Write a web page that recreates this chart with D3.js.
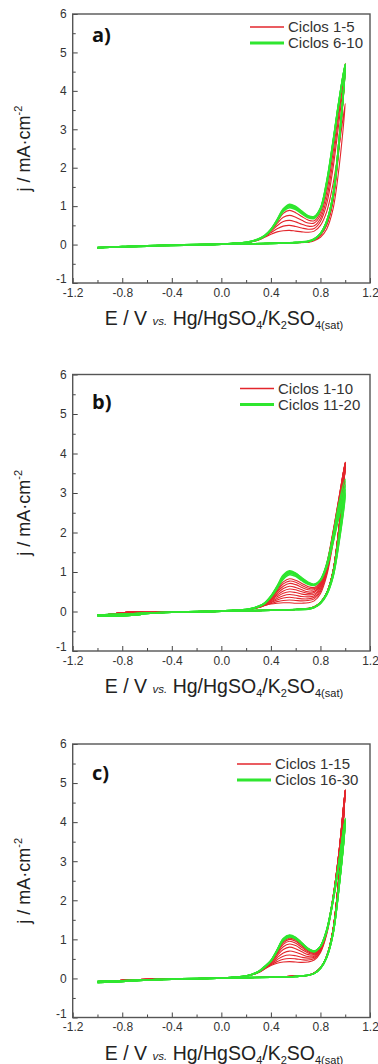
<!DOCTYPE html>
<html>
<head>
<meta charset="utf-8">
<script src="https://cdn.jsdelivr.net/npm/d3@7"></script>
<style>
  body { margin: 0; background: #fff; }
  svg { display: block; }
</style>
</head>
<body>
<svg id="chart" width="378" height="1064"></svg>
<script>
// potential grids (V vs Hg/HgSO4/K2SO4 sat)
const potentialLowFwd = [-1.0, -0.9, -0.8, -0.6, -0.4, -0.2, 0.0, 0.1];
const potentialHighFwd = [0.2, 0.3, 0.35, 0.4, 0.45, 0.5, 0.55, 0.6, 0.65, 0.7, 0.75, 0.8, 0.85, 0.9, 0.95, 1.0];
const potentialHighRev = [0.95, 0.9, 0.85, 0.8, 0.75, 0.7, 0.6, 0.5, 0.4];
const potentialLowRev = [0.2, 0.0, -0.2, -0.4, -0.6, -0.7, -0.8, -0.9, -1.0];

const xTicks = [-1.2, -0.8, -0.4, 0.0, 0.4, 0.8, 1.2];
const xMinorTicks = [-1.0, -0.6, -0.2, 0.2, 0.6, 1.0];
const yTicks = [-1, 0, 1, 2, 3, 4, 5, 6];
const yMinorTicks = [-0.5, 0.5, 1.5, 2.5, 3.5, 4.5, 5.5];

// ---- panel a) ----
const lowFwdA = [-0.08, -0.07, -0.06, -0.04, -0.02, -0.01, 0.01, 0.03];
const lowRevRedA = [0.02, 0.01, 0.0, -0.01, -0.03, -0.04, -0.05, -0.07, -0.09];
const lowRevGreenA = [0.02, 0.01, 0.0, -0.01, -0.03, -0.04, -0.05, -0.07, -0.09];
const redFwdA = [
  [0.05, 0.12, 0.19, 0.27, 0.33, 0.36, 0.37, 0.35, 0.33, 0.32, 0.35, 0.50, 0.85, 1.55, 2.55, 3.67],
  [0.05, 0.12, 0.20, 0.31, 0.41, 0.48, 0.50, 0.47, 0.43, 0.40, 0.42, 0.60, 1.05, 1.95, 3.20, 4.55],
  [0.05, 0.13, 0.21, 0.34, 0.49, 0.60, 0.63, 0.59, 0.53, 0.48, 0.49, 0.68, 1.20, 2.15, 3.40, 4.65],
  [0.05, 0.13, 0.21, 0.36, 0.55, 0.71, 0.76, 0.71, 0.63, 0.56, 0.56, 0.76, 1.35, 2.35, 3.55, 4.70],
  [0.05, 0.13, 0.22, 0.37, 0.59, 0.81, 0.89, 0.83, 0.73, 0.64, 0.62, 0.84, 1.48, 2.50, 3.65, 4.72]
];
const redRevA = [
  [2.00, 0.90, 0.40, 0.19, 0.10, 0.06, 0.05, 0.04, 0.03],
  [2.50, 1.10, 0.50, 0.24, 0.12, 0.07, 0.05, 0.04, 0.03],
  [2.55, 1.13, 0.52, 0.25, 0.12, 0.07, 0.05, 0.04, 0.03],
  [2.60, 1.15, 0.53, 0.25, 0.12, 0.07, 0.05, 0.04, 0.03],
  [2.62, 1.16, 0.54, 0.25, 0.12, 0.07, 0.05, 0.04, 0.03]
];
const greenFwdA = [
  [0.05, 0.13, 0.22, 0.38, 0.61, 0.86, 0.96, 0.91, 0.80, 0.70, 0.68, 0.90, 1.55, 2.58, 3.70, 4.68],
  [0.05, 0.14, 0.22, 0.38, 0.62, 0.88, 0.99, 0.94, 0.82, 0.72, 0.70, 0.92, 1.58, 2.60, 3.72, 4.68],
  [0.06, 0.14, 0.23, 0.39, 0.63, 0.90, 1.01, 0.96, 0.84, 0.73, 0.71, 0.93, 1.60, 2.62, 3.73, 4.69],
  [0.06, 0.14, 0.23, 0.39, 0.64, 0.91, 1.03, 0.97, 0.85, 0.74, 0.72, 0.94, 1.62, 2.63, 3.74, 4.70],
  [0.06, 0.15, 0.24, 0.40, 0.65, 0.93, 1.05, 0.99, 0.87, 0.75, 0.73, 0.95, 1.64, 2.65, 3.75, 4.70]
];
const greenRevA = [
  [2.68, 1.24, 0.59, 0.28, 0.14, 0.08, 0.05, 0.04, 0.03],
  [2.68, 1.24, 0.59, 0.28, 0.14, 0.08, 0.05, 0.04, 0.03],
  [2.69, 1.25, 0.60, 0.28, 0.14, 0.08, 0.05, 0.04, 0.03],
  [2.70, 1.25, 0.60, 0.28, 0.14, 0.08, 0.05, 0.04, 0.03],
  [2.70, 1.26, 0.60, 0.29, 0.15, 0.09, 0.06, 0.04, 0.03]
];

// ---- panel b) ----
const lowFwdB = [-0.09, -0.08, -0.07, -0.04, -0.02, -0.01, 0.01, 0.03];
const lowRevRedB = [0.02, 0.01, 0.0, -0.01, -0.02, -0.01, -0.03, -0.07, -0.10];
const lowRevGreenB = [0.02, 0.01, 0.0, -0.02, -0.05, -0.09, -0.11, -0.11, -0.11];
const redFwdB = [
  [0.04, 0.10, 0.15, 0.19, 0.21, 0.22, 0.22, 0.21, 0.21, 0.22, 0.27, 0.45, 0.90, 1.70, 2.60, 3.70],
  [0.04, 0.10, 0.15, 0.20, 0.25, 0.28, 0.29, 0.28, 0.27, 0.28, 0.32, 0.50, 0.95, 1.76, 2.65, 3.72],
  [0.04, 0.10, 0.16, 0.22, 0.29, 0.34, 0.36, 0.34, 0.32, 0.32, 0.36, 0.54, 1.00, 1.80, 2.70, 3.74],
  [0.04, 0.11, 0.16, 0.24, 0.33, 0.40, 0.43, 0.41, 0.38, 0.37, 0.40, 0.58, 1.04, 1.84, 2.74, 3.75],
  [0.04, 0.11, 0.17, 0.26, 0.37, 0.46, 0.50, 0.48, 0.44, 0.42, 0.44, 0.62, 1.08, 1.88, 2.78, 3.76],
  [0.04, 0.11, 0.17, 0.28, 0.41, 0.52, 0.57, 0.55, 0.50, 0.46, 0.48, 0.65, 1.11, 1.91, 2.81, 3.77],
  [0.04, 0.11, 0.18, 0.30, 0.45, 0.58, 0.64, 0.61, 0.55, 0.50, 0.51, 0.68, 1.14, 1.94, 2.84, 3.78],
  [0.04, 0.12, 0.18, 0.31, 0.49, 0.64, 0.71, 0.68, 0.61, 0.55, 0.55, 0.71, 1.17, 1.96, 2.86, 3.78],
  [0.04, 0.12, 0.19, 0.33, 0.52, 0.70, 0.77, 0.74, 0.66, 0.59, 0.58, 0.74, 1.19, 1.98, 2.88, 3.78],
  [0.04, 0.12, 0.19, 0.34, 0.55, 0.75, 0.83, 0.79, 0.71, 0.63, 0.61, 0.76, 1.21, 2.00, 2.89, 3.76]
];
const redRevB = [
  [2.10, 0.98, 0.46, 0.22, 0.11, 0.07, 0.05, 0.04, 0.03],
  [2.11, 0.98, 0.46, 0.22, 0.11, 0.07, 0.05, 0.04, 0.03],
  [2.12, 0.99, 0.46, 0.22, 0.11, 0.07, 0.05, 0.04, 0.03],
  [2.12, 0.99, 0.46, 0.22, 0.11, 0.07, 0.05, 0.04, 0.03],
  [2.13, 0.99, 0.47, 0.22, 0.11, 0.07, 0.05, 0.04, 0.03],
  [2.13, 1.00, 0.47, 0.23, 0.11, 0.07, 0.05, 0.04, 0.03],
  [2.14, 1.00, 0.47, 0.23, 0.12, 0.07, 0.05, 0.04, 0.03],
  [2.14, 1.00, 0.47, 0.23, 0.12, 0.07, 0.05, 0.04, 0.03],
  [2.14, 1.00, 0.47, 0.23, 0.12, 0.08, 0.05, 0.04, 0.03],
  [2.13, 0.99, 0.47, 0.23, 0.12, 0.08, 0.05, 0.04, 0.03]
];
const greenFwdB = [
  [0.05, 0.12, 0.20, 0.36, 0.58, 0.82, 0.93, 0.89, 0.78, 0.69, 0.66, 0.80, 1.20, 1.90, 2.75, 3.35],
  [0.05, 0.12, 0.20, 0.37, 0.60, 0.85, 0.96, 0.92, 0.81, 0.71, 0.67, 0.80, 1.18, 1.85, 2.62, 3.20],
  [0.05, 0.13, 0.21, 0.38, 0.62, 0.88, 0.99, 0.94, 0.83, 0.72, 0.68, 0.80, 1.16, 1.80, 2.52, 3.08],
  [0.05, 0.13, 0.21, 0.38, 0.63, 0.90, 1.01, 0.96, 0.84, 0.73, 0.68, 0.79, 1.14, 1.76, 2.45, 3.00],
  [0.05, 0.13, 0.22, 0.39, 0.64, 0.92, 1.03, 0.97, 0.85, 0.74, 0.69, 0.79, 1.12, 1.72, 2.40, 2.95]
];
const greenRevB = [
  [1.95, 0.95, 0.46, 0.22, 0.11, 0.07, 0.05, 0.04, 0.03],
  [1.88, 0.92, 0.45, 0.22, 0.11, 0.07, 0.05, 0.04, 0.03],
  [1.82, 0.89, 0.44, 0.21, 0.11, 0.07, 0.05, 0.04, 0.03],
  [1.78, 0.87, 0.43, 0.21, 0.10, 0.06, 0.05, 0.04, 0.03],
  [1.75, 0.86, 0.42, 0.20, 0.10, 0.06, 0.05, 0.04, 0.03]
];

// ---- panel c) ----
const lowFwdC = [-0.08, -0.07, -0.06, -0.04, -0.02, -0.01, 0.01, 0.03];
const lowRevRedC = [0.02, 0.01, 0.0, -0.01, -0.02, -0.03, -0.05, -0.08, -0.10];
const lowRevGreenC = [0.02, 0.01, 0.0, -0.02, -0.04, -0.06, -0.08, -0.09, -0.10];
const redFwdC = [
  [0.06, 0.15, 0.24, 0.33, 0.39, 0.42, 0.43, 0.42, 0.41, 0.42, 0.47, 0.66, 1.12, 1.95, 3.15, 4.78],
  [0.06, 0.15, 0.25, 0.35, 0.43, 0.49, 0.51, 0.50, 0.48, 0.47, 0.51, 0.69, 1.15, 1.98, 3.18, 4.80],
  [0.06, 0.15, 0.25, 0.37, 0.48, 0.57, 0.60, 0.58, 0.54, 0.52, 0.54, 0.71, 1.17, 2.00, 3.20, 4.81],
  [0.06, 0.16, 0.26, 0.38, 0.53, 0.65, 0.70, 0.67, 0.61, 0.56, 0.57, 0.73, 1.19, 2.02, 3.22, 4.82],
  [0.06, 0.16, 0.27, 0.40, 0.58, 0.74, 0.80, 0.76, 0.68, 0.61, 0.60, 0.75, 1.20, 2.03, 3.23, 4.82],
  [0.06, 0.16, 0.27, 0.41, 0.62, 0.81, 0.88, 0.84, 0.74, 0.65, 0.62, 0.77, 1.21, 2.04, 3.24, 4.82],
  [0.06, 0.17, 0.28, 0.42, 0.65, 0.87, 0.95, 0.90, 0.79, 0.68, 0.64, 0.78, 1.22, 2.05, 3.25, 4.82],
  [0.06, 0.17, 0.28, 0.43, 0.67, 0.91, 1.00, 0.95, 0.83, 0.70, 0.66, 0.79, 1.22, 2.05, 3.25, 4.82],
  [0.06, 0.17, 0.29, 0.43, 0.69, 0.94, 1.03, 0.98, 0.85, 0.72, 0.67, 0.79, 1.22, 2.05, 3.25, 4.82],
  [0.06, 0.17, 0.29, 0.44, 0.70, 0.96, 1.06, 1.00, 0.87, 0.73, 0.68, 0.80, 1.22, 2.05, 3.25, 4.82]
];
const redRevC = [
  [2.60, 1.20, 0.56, 0.27, 0.14, 0.08, 0.06, 0.04, 0.03],
  [2.61, 1.21, 0.56, 0.27, 0.14, 0.08, 0.06, 0.04, 0.03],
  [2.62, 1.21, 0.57, 0.27, 0.14, 0.08, 0.06, 0.04, 0.03],
  [2.63, 1.22, 0.57, 0.27, 0.14, 0.08, 0.06, 0.04, 0.03],
  [2.63, 1.22, 0.57, 0.27, 0.14, 0.08, 0.06, 0.04, 0.03],
  [2.64, 1.22, 0.57, 0.27, 0.14, 0.08, 0.06, 0.04, 0.03],
  [2.64, 1.22, 0.57, 0.27, 0.14, 0.08, 0.06, 0.04, 0.03],
  [2.64, 1.22, 0.57, 0.27, 0.14, 0.08, 0.06, 0.04, 0.03],
  [2.64, 1.22, 0.57, 0.27, 0.14, 0.08, 0.06, 0.04, 0.03],
  [2.64, 1.22, 0.57, 0.27, 0.14, 0.08, 0.06, 0.04, 0.03]
];
const greenFwdC = [
  [0.06, 0.17, 0.29, 0.44, 0.70, 0.97, 1.06, 1.01, 0.88, 0.74, 0.68, 0.82, 1.24, 2.00, 3.00, 4.10],
  [0.06, 0.17, 0.29, 0.44, 0.71, 0.98, 1.07, 1.02, 0.89, 0.75, 0.69, 0.82, 1.23, 1.99, 2.98, 4.08],
  [0.06, 0.17, 0.30, 0.45, 0.71, 0.99, 1.08, 1.03, 0.89, 0.75, 0.69, 0.82, 1.22, 1.98, 2.96, 4.06],
  [0.06, 0.17, 0.30, 0.45, 0.72, 1.00, 1.09, 1.03, 0.90, 0.76, 0.70, 0.82, 1.22, 1.97, 2.95, 4.05],
  [0.06, 0.18, 0.30, 0.45, 0.72, 1.01, 1.10, 1.04, 0.90, 0.76, 0.70, 0.82, 1.21, 1.96, 2.94, 4.04],
  [0.06, 0.18, 0.31, 0.46, 0.73, 1.02, 1.11, 1.05, 0.91, 0.77, 0.70, 0.82, 1.21, 1.95, 2.93, 4.03]
];
const greenRevC = [
  [2.38, 1.14, 0.55, 0.26, 0.13, 0.08, 0.05, 0.04, 0.03],
  [2.37, 1.13, 0.55, 0.26, 0.13, 0.08, 0.05, 0.04, 0.03],
  [2.36, 1.13, 0.54, 0.26, 0.13, 0.08, 0.05, 0.04, 0.03],
  [2.35, 1.12, 0.54, 0.26, 0.13, 0.08, 0.05, 0.04, 0.03],
  [2.35, 1.12, 0.54, 0.26, 0.13, 0.08, 0.05, 0.04, 0.03],
  [2.34, 1.12, 0.54, 0.26, 0.13, 0.08, 0.05, 0.04, 0.03]
];

const legendA = ["Ciclos 1-5", "Ciclos 6-10"];
const legendB = ["Ciclos 1-10", "Ciclos 11-20"];
const legendC = ["Ciclos 1-15", "Ciclos 16-30"];

const RED = "#e3262c";
const GREEN = "#2fe62f";
const FONT = "'Liberation Sans', Arial, sans-serif";

const panels = [
  { label: "a)", top: 14, bottom: 283, legend: legendA, lowFwd: lowFwdA, lowRevRed: lowRevRedA, lowRevGreen: lowRevGreenA,
    redFwd: redFwdA, redRev: redRevA, greenFwd: greenFwdA, greenRev: greenRevA,
    legX: 250, legY: 13, labY: 28 },
  { label: "b)", top: 374.5, bottom: 651, legend: legendB, lowFwd: lowFwdB, lowRevRed: lowRevRedB, lowRevGreen: lowRevGreenB,
    redFwd: redFwdB, redRev: redRevB, greenFwd: greenFwdB, greenRev: greenRevB,
    legX: 240, legY: 14, labY: 34 },
  { label: "c)", top: 744, bottom: 1017.5, legend: legendC, lowFwd: lowFwdC, lowRevRed: lowRevRedC, lowRevGreen: lowRevGreenC,
    redFwd: redFwdC, redRev: redRevC, greenFwd: greenFwdC, greenRev: greenRevC,
    legX: 237, legY: 20, labY: 36 }
];

const svg = d3.select("#chart");
const left = 72.7, right = 370;

function zip(xs, ys) {
  return xs.map((v, i) => [v, ys[i]]);
}

panels.forEach(p => {
  const g = svg.append("g");
  const x = d3.scaleLinear().domain([-1.2, 1.2]).range([left, right]);
  const y = d3.scaleLinear().domain([-1, 6]).range([p.bottom, p.top]);

  const line = d3.line()
    .x(d => x(d[0]))
    .y(d => y(d[1]))
    .curve(d3.curveCatmullRom.alpha(0.5));

  const loop = (fwd, rev, lowRev) => [].concat(
    zip(potentialLowFwd, p.lowFwd),
    zip(potentialHighFwd, fwd),
    zip(potentialHighRev, rev),
    zip(potentialLowRev, lowRev)
  );

  // red cycles first, green on top
  p.redFwd.forEach((fwd, i) => {
    g.append("path")
      .attr("d", line(loop(fwd, p.redRev[i], p.lowRevRed)))
      .attr("fill", "none")
      .attr("stroke", RED)
      .attr("stroke-width", 1.1);
  });
  p.greenFwd.forEach((fwd, i) => {
    g.append("path")
      .attr("d", line(loop(fwd, p.greenRev[i], p.lowRevGreen)))
      .attr("fill", "none")
      .attr("stroke", GREEN)
      .attr("stroke-width", 1.6);
  });

  // minor ticks
  g.append("g")
    .attr("transform", `translate(0,${p.bottom})`)
    .call(d3.axisBottom(x).tickValues(xMinorTicks).tickSize(-3).tickFormat(""))
    .call(a => a.select(".domain").remove());
  g.append("g")
    .attr("transform", `translate(${left},0)`)
    .call(d3.axisLeft(y).tickValues(yMinorTicks).tickSize(-3).tickFormat(""))
    .call(a => a.select(".domain").remove());

  // major ticks + labels
  const xa = g.append("g")
    .attr("transform", `translate(0,${p.bottom})`)
    .call(d3.axisBottom(x).tickValues(xTicks).tickSize(-5).tickPadding(5).tickFormat(d => d.toFixed(1)));
  const ya = g.append("g")
    .attr("transform", `translate(${left},0)`)
    .call(d3.axisLeft(y).tickValues(yTicks).tickSize(-5).tickPadding(6).tickFormat(d => String(d)));
  [xa, ya].forEach(a => {
    a.select(".domain").remove();
    a.selectAll("text").attr("font-size", 12).attr("font-family", FONT).attr("fill", "#333");
  });
  // the "-1" label sits just above the "-1.2" label, as in the original
  ya.selectAll(".tick text").filter(d => d === -1).attr("y", -4);
  g.selectAll(".tick line").attr("stroke", "#444");

  // frame
  g.append("rect")
    .attr("x", left).attr("y", p.top)
    .attr("width", right - left).attr("height", p.bottom - p.top)
    .attr("fill", "none").attr("stroke", "#555").attr("stroke-width", 1.4);

  // panel label
  g.append("text")
    .attr("x", 92).attr("y", p.top + p.labY)
    .attr("font-family", "'Open Sans', sans-serif")
    .attr("font-weight", 700)
    .attr("font-size", 20)
    .attr("fill", "#111")
    .text(p.label);

  // legend
  p.legend.forEach((t, i) => {
    const ly = p.top + p.legY + i * 16;
    g.append("line")
      .attr("x1", p.legX).attr("x2", p.legX + 34)
      .attr("y1", ly).attr("y2", ly)
      .attr("stroke", i === 0 ? RED : GREEN)
      .attr("stroke-width", i === 0 ? 1.5 : 3);
    g.append("text")
      .attr("x", p.legX + 38).attr("y", ly + 5)
      .attr("font-family", FONT)
      .attr("font-size", 15)
      .attr("fill", "#333")
      .text(t);
  });

  // y title
  const yt = g.append("text")
    .attr("transform", `translate(30,${(p.top + p.bottom) / 2}) rotate(-90)`)
    .attr("text-anchor", "middle")
    .attr("font-family", FONT)
    .attr("font-size", 18)
    .attr("fill", "#222");
  yt.append("tspan").text("j / mA·cm");
  yt.append("tspan").attr("font-size", 11).attr("dy", -8).text("-2");

  // x title
  const xt = g.append("text")
    .attr("x", 224).attr("y", p.bottom + 42)
    .attr("text-anchor", "middle")
    .attr("font-family", FONT)
    .attr("font-size", 19.5)
    .attr("fill", "#222");
  xt.append("tspan").text("E / V ");
  xt.append("tspan").attr("font-size", 11.5).attr("font-style", "italic").text("vs.");
  xt.append("tspan").text(" Hg/HgSO");
  xt.append("tspan").attr("font-size", 11).attr("dy", 4).text("4");
  xt.append("tspan").attr("dy", -4).text("/K");
  xt.append("tspan").attr("font-size", 11).attr("dy", 4).text("2");
  xt.append("tspan").attr("dy", -4).text("SO");
  xt.append("tspan").attr("font-size", 11).attr("dy", 4).text("4(sat)");
});
</script>
</body>
</html>
